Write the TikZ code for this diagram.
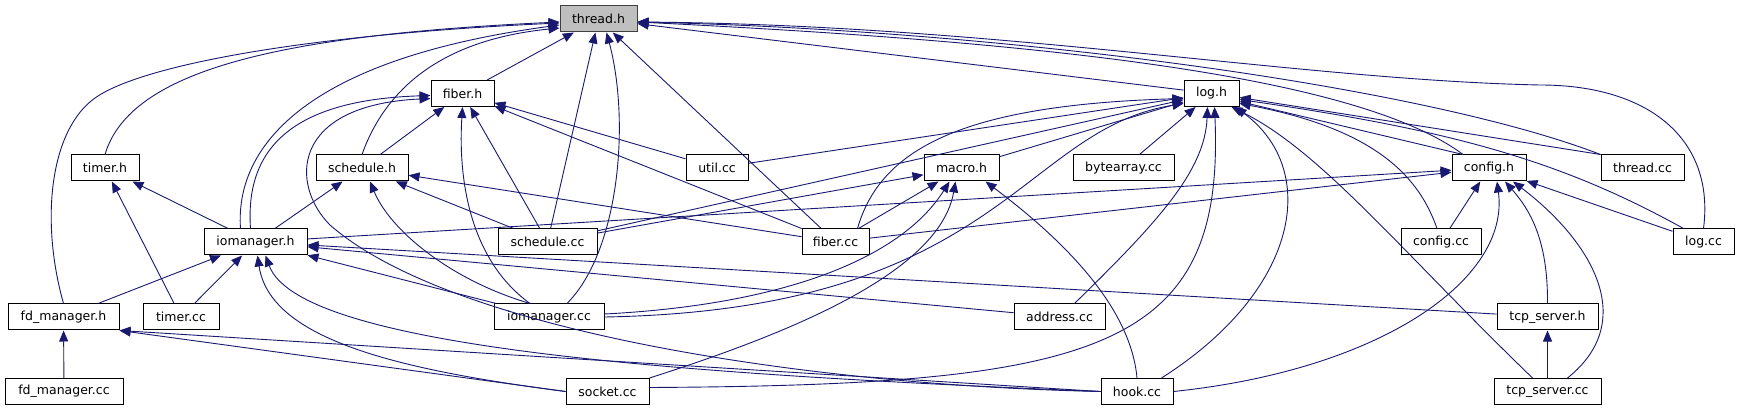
\documentclass[tikz,border=0pt]{standalone}
\usepackage{fontspec}
\setmainfont{DejaVu Sans}
\usetikzlibrary{arrows.meta}
\definecolor{edgeblue}{RGB}{25,25,112}
\begin{document}
\begin{tikzpicture}[x=1pt,y=-1pt,font=\fontsize{12.5}{15}\selectfont,
  file/.style={draw=black,line width=1pt,fill=white,inner xsep=0pt,inner ysep=0pt,minimum height=26pt},
  dep/.style={edgeblue,line width=0.9pt,-{Triangle[length=11pt,width=9pt]}}]
\useasboundingbox (0,0) rectangle (1739,411);
\node[file,minimum width=77pt,fill=gray!50,draw=black!75] (threadh) at (598.5,19) {thread.h};
\node[file,minimum width=63pt] (fiberh) at (462.5,93.5) {fiber.h};
\node[file,minimum width=55pt] (logh) at (1211.5,93.5) {log.h};
\node[file,minimum width=68pt] (timerh) at (105,168) {timer.h};
\node[file,minimum width=92pt] (scheduleh) at (362,168) {schedule.h};
\node[file,minimum width=62pt] (utilcc) at (717,168) {util.cc};
\node[file,minimum width=75pt] (macroh) at (961.5,168) {macro.h};
\node[file,minimum width=101pt] (bytearraycc) at (1123.5,168) {bytearray.cc};
\node[file,minimum width=74pt] (configh) at (1489,168) {config.h};
\node[file,minimum width=83pt] (threadcc) at (1642.5,168) {thread.cc};
\node[file,minimum width=103pt] (iomanagerh) at (255.5,242) {iomanager.h};
\node[file,minimum width=99pt] (schedulecc) at (547.5,242) {schedule.cc};
\node[file,minimum width=67pt] (fibercc) at (835.5,242) {fiber.cc};
\node[file,minimum width=80pt] (configcc) at (1441,242) {config.cc};
\node[file,minimum width=61pt] (logcc) at (1703.5,242) {log.cc};
\node[file,minimum width=111pt] (fdmanagerh) at (63.5,317) {fd\_manager.h};
\node[file,minimum width=76pt] (timercc) at (181,317) {timer.cc};
\node[file,minimum width=110pt] (iomanagercc) at (549,317) {iomanager.cc};
\node[file,minimum width=91pt] (addresscc) at (1059.5,317) {address.cc};
\node[file,minimum width=101pt] (tcpserverh) at (1547.5,317) {tcp\_server.h};
\node[file,minimum width=118pt] (fdmanagercc) at (64,391.5) {fd\_manager.cc};
\node[file,minimum width=83pt] (socketcc) at (607.5,391.5) {socket.cc};
\node[file,minimum width=72pt] (hookcc) at (1137,391.5) {hook.cc};
\node[file,minimum width=107pt] (tcpservercc) at (1547.5,391.5) {tcp\_server.cc};
% thread.h
\draw[dep] (fiberh) -- (threadh); \draw[dep] (logh) -- (threadh);
\draw[dep] (timerh.north) .. controls (130,70) and (280,35) .. ([yshift=-3pt]threadh.west);
\draw[dep] (fdmanagerh.north) .. controls (40,220) and (50,130) .. (95,98) .. controls (140,66) and (300,35) .. ([yshift=-4pt]threadh.west);
\draw[dep] ([xshift=-15pt]iomanagerh.north) .. controls (235,150) and (300,60) .. ([yshift=-6pt]threadh.west);
\draw[dep] (scheduleh.north) .. controls (385,90) and (440,40) .. ([yshift=-9pt]threadh.west);
\draw[dep] (schedulecc) -- (threadh); \draw[dep] (fibercc) -- (threadh);
\draw[dep] ([xshift=18pt]iomanagercc.north) .. controls (620,250) and (630,120) .. ([xshift=8pt]threadh.south);
\draw[dep] ([xshift=-26pt]configh.north) .. controls (1350,70) and (1000,40) .. ([yshift=-3pt]threadh.east);
\draw[dep] (threadcc.north west) .. controls (1420,85) and (1000,30) .. ([yshift=-3pt]threadh.east);
\draw[dep] (logcc.north) .. controls (1715,140) and (1650,85) .. (1540,85) .. controls (1300,80) and (1000,25) .. ([yshift=-3pt]threadh.east);
% log.h
\draw[dep] (utilcc) -- (logh); \draw[dep] (schedulecc) -- (logh);
\draw[dep] (macroh) -- (logh); \draw[dep] (bytearraycc) -- (logh);
\draw[dep] ([xshift=22pt]fibercc.north) .. controls (880,150) and (960,105) .. ([yshift=-5pt]logh.west);
\draw[dep] (iomanagercc.east) .. controls (1000,310) and (1020,130) .. ([yshift=-10pt]logh.west);
\draw[dep] ([xshift=15pt]addresscc.north) .. controls (1160,220) and (1205,170) .. ([xshift=-4pt]logh.south);
\draw[dep] ([yshift=4pt]socketcc.east) .. controls (1100,385) and (1225,350) .. ([xshift=3pt]logh.south);
\draw[dep] ([xshift=-12pt]hookcc.north east) .. controls (1300,290) and (1320,170) .. ([xshift=24pt]logh.south);
\draw[dep] ([xshift=-26pt]configh.north) -- ([yshift=-8pt]logh.east);
\draw[dep] ([xshift=-4pt]configcc.north) .. controls (1420,180) and (1380,130) .. ([yshift=-10pt]logh.east);
\draw[dep] (threadcc.north west) -- ([yshift=-4pt]logh.east);
\draw[dep] ([xshift=-20pt]logcc.north) .. controls (1560,160) and (1450,130) .. ([yshift=-6pt]logh.east);
\draw[dep] ([xshift=-15pt]tcpservercc.north) .. controls (1400,250) and (1320,150) .. ([xshift=20pt]logh.south);
% fiber.h
\draw[dep] (scheduleh) -- (fiberh); \draw[dep] (schedulecc) -- (fiberh);
\draw[dep] (fibercc) -- (fiberh); \draw[dep] (utilcc) -- (fiberh);
\draw[dep] ([xshift=-5pt]iomanagerh.north) .. controls (245,150) and (290,100) .. ([yshift=-2pt]fiberh.west);
\draw[dep] (hookcc.west) .. controls (800,385) and (450,330) .. (330,225) .. controls (290,185) and (290,105) .. ([yshift=-5pt]fiberh.west);
\draw[dep] ([xshift=-19pt]iomanagercc.north) .. controls (470,260) and (458,180) .. (fiberh.south);
% schedule.h, timer.h
\draw[dep] (iomanagerh) -- (scheduleh); \draw[dep] (schedulecc) -- (scheduleh);
\draw[dep] (fibercc) -- (scheduleh);
\draw[dep] ([xshift=-19pt]iomanagercc.north) .. controls (450,280) and (390,230) .. ([xshift=8pt]scheduleh.south);
\draw[dep] (iomanagerh) -- (timerh); \draw[dep] (timercc) -- (timerh);
% iomanager.h
\draw[dep] (fdmanagerh) -- (iomanagerh); \draw[dep] (timercc) -- (iomanagerh);
\draw[dep] (iomanagercc) -- (iomanagerh); \draw[dep] (addresscc) -- (iomanagerh);
\draw[dep] (tcpserverh) -- (iomanagerh);
\draw[dep] (socketcc.west) .. controls (400,370) and (270,340) .. ([xshift=2pt]iomanagerh.south);
\draw[dep] (hookcc.west) .. controls (700,375) and (300,350) .. ([xshift=10pt]iomanagerh.south);
% fd_manager.h
\draw[dep] (fdmanagercc) -- (fdmanagerh);
\draw[dep] (socketcc.west) -- (fdmanagerh.south east); \draw[dep] (hookcc.west) -- (fdmanagerh.south east);
% macro.h
\draw[dep] (schedulecc) -- (macroh); \draw[dep] (fibercc) -- (macroh);
\draw[dep] ([yshift=3pt]iomanagercc.east) .. controls (780,305) and (900,260) .. ([xshift=-12pt]macroh.south);
\draw[dep] (socketcc.north east) .. controls (800,330) and (940,270) .. ([xshift=-6pt]macroh.south);
\draw[dep] (hookcc.north) .. controls (1130,300) and (1050,230) .. ([xshift=24pt]macroh.south);
% config.h
\draw[dep] (iomanagerh) -- (configh); \draw[dep] (fibercc) -- (configh);
\draw[dep] (configcc) -- (configh); \draw[dep] (logcc) -- (configh);
\draw[dep] (hookcc.east) .. controls (1380,370) and (1510,280) .. ([xshift=8pt]configh.south);
\draw[dep] (tcpserverh.north) .. controls (1548,240) and (1530,210) .. ([xshift=16pt]configh.south);
\draw[dep] ([xshift=20pt]tcpservercc.north) .. controls (1640,320) and (1590,240) .. ([xshift=24pt]configh.south);
% tcp_server.h
\draw[dep] (tcpservercc) -- (tcpserverh);
\end{tikzpicture}
\end{document}
